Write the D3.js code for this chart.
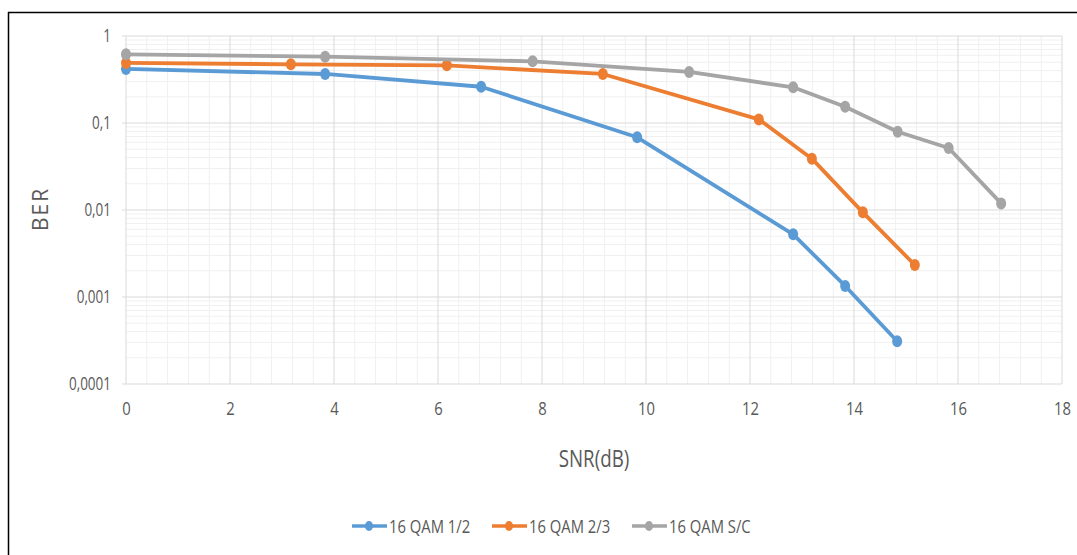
<!DOCTYPE html>
<html><head><meta charset="utf-8">
<script src="https://cdn.jsdelivr.net/npm/d3@7"></script>
<style>
body{margin:0;background:#fff;}
text{font-family:"Open Sans","Liberation Sans",sans-serif;}
</style></head>
<body><svg id="c" width="1077" height="555"></svg>
<script>
const seriesNames = ["16 QAM 1/2", "16 QAM 2/3", "16 QAM S/C"];
const colors = ["#5B9BD5", "#ED7D31", "#A5A5A5"];
const snr12 = [0, 3.83, 6.83, 9.83, 12.83, 13.83, 14.83];
const ber12 = [0.418, 0.366, 0.261, 0.0685, 0.00525, 0.00134, 0.00031];
const snr23 = [0, 3.17, 6.17, 9.17, 12.17, 13.19, 14.17, 15.17];
const ber23 = [0.49, 0.473, 0.46, 0.366, 0.110, 0.0389, 0.0094, 0.00233];
const snrSC = [0, 3.83, 7.82, 10.83, 12.83, 13.83, 14.84, 15.82, 16.83];
const berSC = [0.616, 0.578, 0.512, 0.386, 0.257, 0.154, 0.0794, 0.0516, 0.0119];
const xTicks = [0, 2, 4, 6, 8, 10, 12, 14, 16, 18];
const yTicks = [1, 0.1, 0.01, 0.001, 0.0001];
const yTickLabels = ["1", "0,1", "0,01", "0,001", "0,0001"];
const xTitle = "SNR(dB)";
const yTitle = "BER";

const series = [
  {name: seriesNames[0], x: snr12, y: ber12, color: colors[0]},
  {name: seriesNames[1], x: snr23, y: ber23, color: colors[1]},
  {name: seriesNames[2], x: snrSC, y: berSC, color: colors[2]}
];

const svg = d3.select("#c");
const L = 126, R = 1062, T = 36, B = 384;
const x = d3.scaleLinear().domain([0, 18]).range([L, R]);
const y = d3.scaleLog().domain([0.0001, 1]).range([B, T]);
const SX = 0.78; // horizontal condensing of text
function condense(sel, sx) {
  const s = sx || SX;
  sel.each(function () {
    const t = d3.select(this);
    const xv = +(t.attr("x") || 0);
    t.attr("x", xv / s).attr("transform", (t.attr("transform") || "") + ` scale(${s},1)`);
  });
}

// outer frame
svg.append("line").attr("x1", 8).attr("x2", 1077).attr("y1", 12.5).attr("y2", 12.5).attr("stroke", "#000").attr("stroke-width", 1.5);
svg.append("line").attr("x1", 8.5).attr("x2", 8.5).attr("y1", 12).attr("y2", 555).attr("stroke", "#000").attr("stroke-width", 1.5);

// minor grid
const g = svg.append("g");
const minorX = d3.range(0, 18.001, 0.4).filter(v => Math.abs(v / 2 - Math.round(v / 2)) > 1e-6);
g.selectAll(".mx").data(minorX).join("line")
  .attr("x1", d => x(d)).attr("x2", d => x(d)).attr("y1", T).attr("y2", B)
  .attr("stroke", "#f0f0f0").attr("stroke-width", 1);
const minorY = [];
[0.0001, 0.001, 0.01, 0.1].forEach(d => { for (let k = 2; k <= 9; k++) minorY.push(d * k); });
g.selectAll(".my").data(minorY).join("line")
  .attr("x1", L).attr("x2", R).attr("y1", d => y(d)).attr("y2", d => y(d))
  .attr("stroke", "#f0f0f0").attr("stroke-width", 1);
// major grid
g.selectAll(".Mx").data(xTicks).join("line")
  .attr("x1", d => x(d)).attr("x2", d => x(d)).attr("y1", T).attr("y2", B)
  .attr("stroke", "#d9d9d9").attr("stroke-width", 1);
g.selectAll(".My").data(yTicks).join("line")
  .attr("x1", L - 4).attr("x2", R).attr("y1", d => y(d)).attr("y2", d => y(d))
  .attr("stroke", "#d9d9d9").attr("stroke-width", 1);

// axes labels
const xAxis = d3.axisBottom(x).tickValues(xTicks).tickSize(0).tickPadding(18).tickFormat(d3.format("d"));
const xa = svg.append("g").attr("transform", `translate(0,${B})`).call(xAxis);
xa.select(".domain").remove();
xa.selectAll("text").attr("fill", "#595959").style("font-size", "19px");
condense(xa.selectAll("text"));

const yAxis = d3.axisLeft(y).tickValues(yTicks).tickSize(0).tickPadding(15).tickFormat((d, i) => yTickLabels[i]);
const ya = svg.append("g").attr("transform", `translate(${L},0)`).call(yAxis);
ya.select(".domain").remove();
ya.selectAll("text").attr("fill", "#595959").style("font-size", "18px");
condense(ya.selectAll("text"), 0.75);

const xt = svg.append("text").attr("x", (L + R) / 2).attr("y", 467).attr("text-anchor", "middle")
  .attr("fill", "#595959").style("font-size", "24px").text(xTitle);
condense(xt);
svg.append("text").attr("transform", `translate(48,209) rotate(-90)`).attr("text-anchor", "middle")
  .attr("fill", "#595959").style("font-size", "21px").style("letter-spacing", "2px").text(yTitle);

// series
const line = d3.line().x(d => x(d[0])).y(d => y(d[1]));
series.forEach(s => {
  const pts = s.x.map((v, i) => [v, s.y[i]]);
  svg.append("path").datum(pts).attr("d", line).attr("fill", "none")
    .attr("stroke", s.color).attr("stroke-width", 3.8).attr("stroke-linejoin", "round");
  svg.append("g").selectAll("ellipse").data(pts).join("ellipse")
    .attr("cx", d => x(d[0])).attr("cy", d => y(d[1])).attr("rx", 5).attr("ry", 6)
    .attr("fill", s.color);
});

// legend
const legX = [352, 492, 632];
series.forEach((s, i) => {
  const lg = svg.append("g").attr("transform", `translate(${legX[i]},526)`);
  lg.append("line").attr("x1", 0).attr("x2", 35).attr("stroke", s.color).attr("stroke-width", 3.5);
  lg.append("ellipse").attr("cx", 17).attr("cy", 0).attr("rx", 4).attr("ry", 5).attr("fill", s.color);
  const t = lg.append("text").attr("x", 37).attr("y", 7).attr("fill", "#595959").style("font-size", "19px").text(s.name);
  condense(t);
});
</script></body></html>
